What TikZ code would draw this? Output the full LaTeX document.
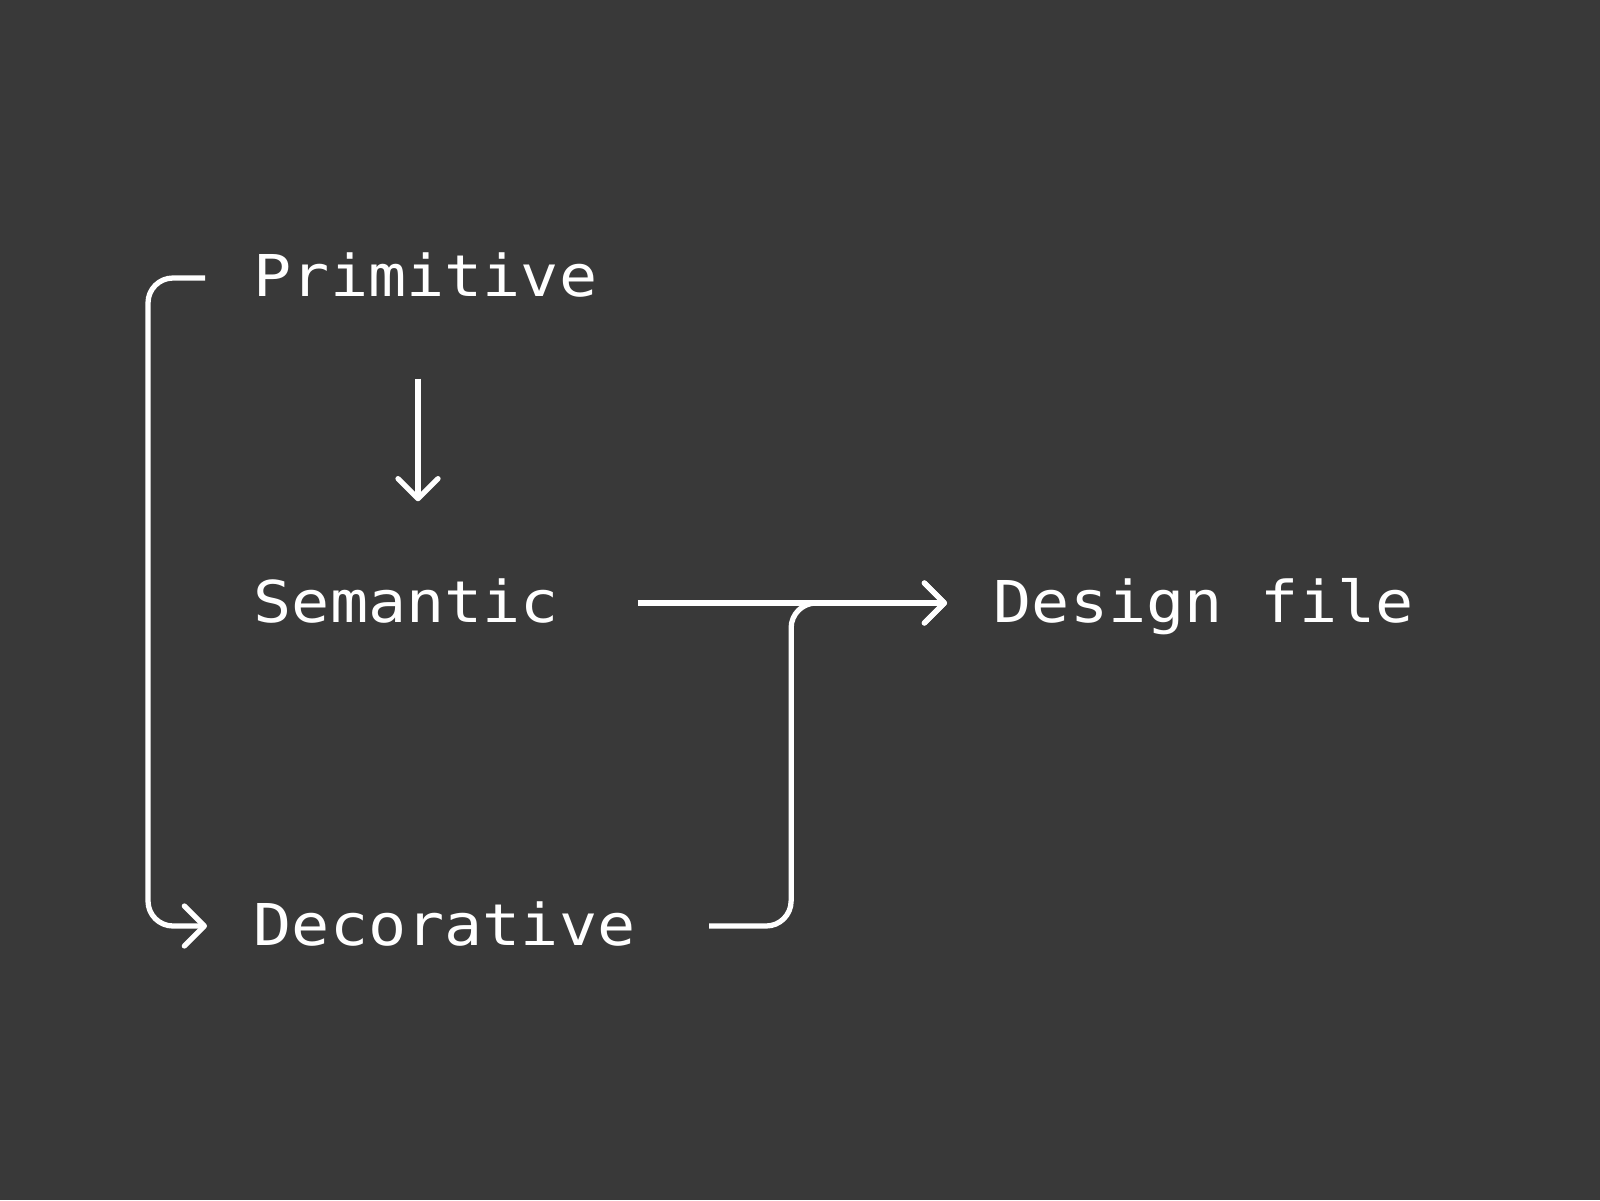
\documentclass[tikz,border=0pt]{standalone}
\usepackage{fontspec}
\setmonofont[FakeStretch=1.1]{DejaVu Sans Mono}
\usepackage{xcolor}
\usetikzlibrary{arrows.meta, calc}
\definecolor{bgdark}{RGB}{57,57,57}

\begin{document}
\begin{tikzpicture}[
    term/.style={anchor=base west, inner sep=0pt, text height=3.8mm, text depth=0pt, text=white, font=\ttfamily\fontsize{16.4}{20}\selectfont},
    wire/.style={draw=white, line width=1.5pt},
    arr/.style={wire, -{Straight Barb[length=2mm, width=4mm, round]}}
]
% Background
\fill[bgdark] (0,0) rectangle (16,12);

\node[term] (prim) at (2.53, 9.03) {Primitive};
\node[term] (sem) at (2.53, 5.78) {Semantic};
\node[term] (deco) at (2.53, 2.55) {Decorative};
\node[term] (design) at (9.93, 5.78) {Design file};

\draw[arr] ([xshift=1.65cm, yshift=-8.1mm]prim.south west) -- ([xshift=1.65cm, yshift=8.2mm]sem.north west);
\draw[arr] ([xshift=7.8mm]sem.east) -- ([xshift=-4.6mm]design.west);

% Side branch
\draw[arr, rounded corners=2.5mm] ([xshift=-4.8mm]prim.west) -- ++(-5.7mm,0) |- ([xshift=-4.6mm]deco.west);

% Merge into design file
\draw[arr, rounded corners=2.5mm] ([xshift=7.3mm]deco.east) -- ++(8.2mm,0) |- ([xshift=-4.6mm]design.west);

\end{tikzpicture}
\end{document}
